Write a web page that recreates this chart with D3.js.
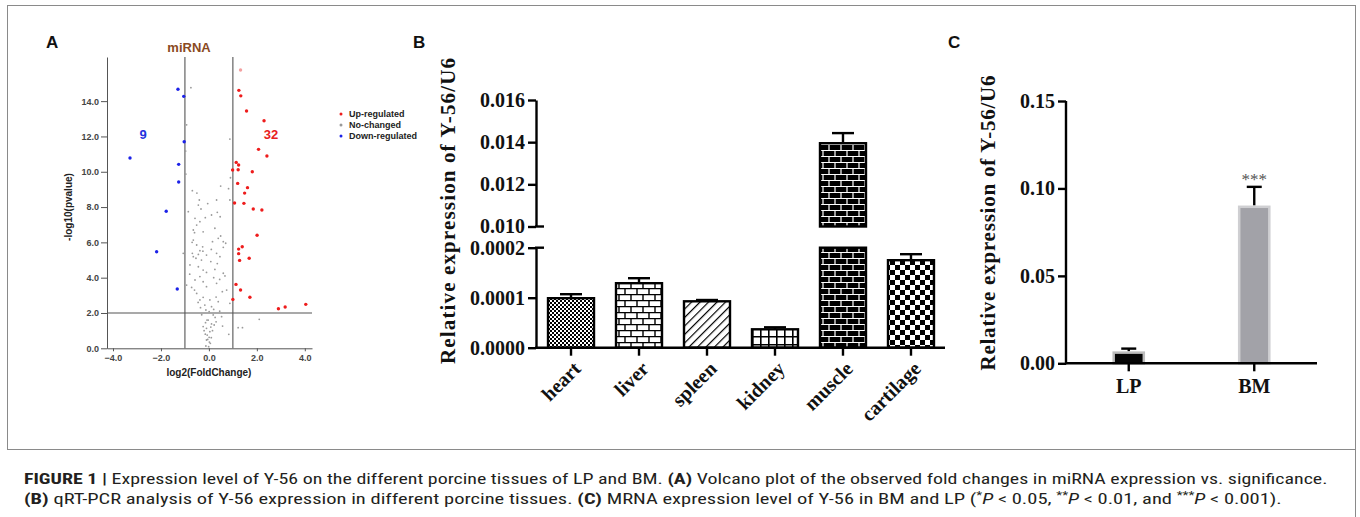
<!DOCTYPE html>
<html>
<head>
<meta charset="utf-8">
<script src="https://cdn.jsdelivr.net/npm/d3@7"></script>
<style>
  body { margin: 0; background: #fff; }
  svg { display: block; }
</style>
</head>
<body>
<script>
// ---- panel A : volcano plot (log2 fold change, -log10 p) ----
const upPoints = [
  [1.32,15.76],[1.25,14.61],[1.33,14.30],[1.57,13.44],[2.30,12.89],[2.07,11.27],[2.42,10.89],
  [1.14,10.53],[1.24,10.38],[0.99,10.10],[1.22,10.11],[1.81,10.0],[1.20,9.34],[1.61,9.10],
  [1.49,8.79],[1.07,8.23],[1.46,8.21],[1.85,7.89],[2.21,7.83],[2.01,6.40],[1.39,5.75],
  [1.24,5.62],[1.24,5.36],[1.68,5.10],[1.28,4.98],[1.13,3.62],[1.32,3.30],[1.71,2.89],
  [1.00,2.77],[2.90,2.24],[3.18,2.34],[4.04,2.49]
];
const downPoints = [
  [-1.29,14.67],[-1.05,14.27],[-1.03,11.70],[-3.29,10.78],[-1.26,10.42],[-1.26,9.42],
  [-1.78,7.76],[-2.18,5.47],[-1.32,3.36]
];
const grayPoints = [
  [-0.75,14.76],[-0.93,12.66],[-0.97,11.17],[-0.96,9.87],[0.875,11.85],[-0.69,8.93],[-0.5,8.79],
  [-0.4,8.4],[0.49,9.19],[0.82,9.04],[0.9,9.66],[0.32,8.4],[0.875,8.4],
  [-0.44,8.11],[-0.33,7.89],[-0.86,7.74],[0.11,7.55],[-0.58,7.36],[-0.375,7.17],[0.47,7.45],
  [-0.51,6.98],[-0.65,6.70],[-0.60,6.55],[-0.24,6.60],[0.49,6.36],[0.39,6.23],[0.15,6.04],
  [-0.65,6.13],[-0.51,5.85],[-0.26,5.75],[0.60,6.04],[0.70,5.95],[0.60,5.72],[-1.07,5.38],
  [-0.69,5.38],[-0.375,5.53],[-0.44,5.32],[-0.65,5.19],[-0.10,5.28],[0.32,5.38],[0.46,5.19],
  [-0.54,5.10],[-0.31,5.00],[0.08,4.91],[-0.79,4.72],[-0.44,4.62],[-0.24,4.43],[0.25,4.47],
  [0.60,4.25],[0.67,4.10],[-0.375,4.06],[-0.58,3.87],[-0.24,3.77],[-0.93,3.58],[-0.72,3.45],
  [-0.10,3.49],[0.32,3.68],[0.74,3.30],[0.56,3.21],[-0.51,3.11],[-0.24,2.89],[-0.375,2.74],
  [0.04,2.74],[0.39,2.64],[0.875,2.55],[-0.17,2.45],[0.11,2.36],[-0.125,2.17],[0.01,2.08],
  [0.18,1.89],[0.26,1.75],[0.53,1.79],[-0.03,1.60],[-0.14,1.45],[0.11,1.38],[-0.24,1.23],
  [-0.10,1.13],[0.22,1.32],[0.57,1.26],[0.04,0.94],[-0.07,0.75],[0.01,0.62],[-0.10,0.47],
  [0.06,0.28],[-0.125,0.13],[-0.01,0.09],[0.83,0.79],[2.10,1.64],[1.22,1.17],[1.40,1.17],
  [0.02,0.35],[-0.05,0.5],[0.1,0.6],[-0.15,0.8],[0.15,1.0],[-0.2,1.0],[0.08,1.2],[-0.08,1.6],
  [0.3,1.5],[-0.3,1.9],[0.2,2.2],[-0.35,2.3],[0.45,2.1],[-0.45,2.6],[0.3,2.9],[-0.6,3.3],
  [0.45,3.9],[-0.8,4.2],[0.2,4.0],[-0.1,4.3],[0.35,4.8],[-0.25,5.5],[0.1,5.6],[-0.7,6.0],
  [0.25,6.8],[-0.15,7.4],[0.35,7.7],[-0.05,8.2]
];
const volcanoXTicks = [-4, -2, 0, 2, 4];
const volcanoYTicks = [0, 2, 4, 6, 8, 10, 12, 14];
const legendLabels = ["Up-regulated", "No-changed", "Down-regulated"];

// ---- panel B : tissues ----
const tissues = ["heart", "liver", "spleen", "kidney", "muscle", "cartilage"];
const tissueMean = [0.000099, 0.000129, 0.0000928, 0.0000368, 0.01395, 0.000175];
const tissueErr = [0.000008, 0.00001, 0.0000026, 0.000004, 0.00048, 0.000012];
const lowTicks = [0, 0.0001, 0.0002];
const highTicks = [0.010, 0.012, 0.014, 0.016];

// ---- panel C : LP vs BM ----
const groups = ["LP", "BM"];
const groupMean = [0.0061, 0.0895];
const groupErr = [0.0023, 0.0114];
const groupTicks = [0, 0.05, 0.10, 0.15];

const sans = "Arial, 'Liberation Sans', Helvetica, sans-serif";
const serif = "'Liberation Serif', 'Times New Roman', serif";
const yTitle = "Relative expression of Y-56/U6";

const svg = d3.select("body").append("svg")
  .attr("width", 1360)
  .attr("height", 517);

// frame
svg.append("rect")
  .attr("x", 7.5).attr("y", 5.5).attr("width", 1348).attr("height", 444)
  .attr("fill", "none").attr("stroke", "#8a8a8a").attr("stroke-width", 1);
svg.append("line").attr("x1", 1355.5).attr("x2", 1355.5).attr("y1", 449).attr("y2", 517)
  .attr("stroke", "#8a8a8a").attr("stroke-width", 1);

// panel letters
[["A", 46], ["B", 413], ["C", 948]].forEach(([t, x]) => {
  svg.append("text").attr("x", x).attr("y", 48).text(t)
    .attr("font-family", sans).attr("font-weight", "bold").attr("font-size", 17).attr("fill", "#111");
});

// ================= A =================
const xA = d3.scaleLinear().domain([-4.25, 4.3]).range([107, 312]);
const yA = d3.scaleLinear().domain([0, 16.5]).range([348.3, 57]);
const gA = svg.append("g");

gA.append("text").attr("x", 189).attr("y", 52).attr("text-anchor", "middle")
  .text("miRNA").attr("font-family", sans).attr("font-weight", "bold")
  .attr("font-size", 13).attr("fill", "#8a4a22");

const axA = gA.append("g").attr("transform", `translate(${xA.range()[0]},0)`)
  .call(d3.axisLeft(yA).tickValues(volcanoYTicks).tickFormat(d3.format(".1f")).tickSize(6).tickSizeOuter(0).tickPadding(2));
const axAx = gA.append("g").attr("transform", `translate(0,${yA(0)})`)
  .call(d3.axisBottom(xA).tickValues(volcanoXTicks).tickFormat(d3.format(".1f")).tickSize(3).tickSizeOuter(0).tickPadding(3));
[axA, axAx].forEach(a => {
  a.selectAll("path, line").attr("stroke", "#555");
  a.selectAll("text").attr("font-family", sans).attr("font-size", 9)
    .attr("font-weight", "bold").attr("fill", "#444");
});

// threshold lines
[-1, 1].forEach(v => {
  gA.append("line").attr("x1", xA(v)).attr("x2", xA(v))
    .attr("y1", yA(16.5)).attr("y2", yA(0)).attr("stroke", "#555").attr("stroke-width", 1.1);
});
gA.append("line").attr("x1", xA(-4.25)).attr("x2", xA(4.3))
  .attr("y1", yA(2)).attr("y2", yA(2)).attr("stroke", "#555").attr("stroke-width", 1.1);

gA.append("g").selectAll("circle").data(grayPoints).enter().append("circle")
  .attr("cx", d => xA(d[0])).attr("cy", d => yA(d[1])).attr("r", 0.9).attr("fill", "#9a9a9a");
gA.append("g").selectAll("circle").data(upPoints).enter().append("circle")
  .attr("cx", d => xA(d[0])).attr("cy", d => yA(d[1])).attr("r", 1.7)
  .attr("fill", (d, i) => i === 0 ? "#f3a0a0" : "#ee1c1c");
gA.append("g").selectAll("circle").data(downPoints).enter().append("circle")
  .attr("cx", d => xA(d[0])).attr("cy", d => yA(d[1])).attr("r", 1.7).attr("fill", "#1c22e8");

gA.append("text").attr("x", 143).attr("y", 139).attr("text-anchor", "middle").text(downPoints.length)
  .attr("font-family", sans).attr("font-weight", "bold").attr("font-size", 13).attr("fill", "#2233dd");
gA.append("text").attr("x", 271).attr("y", 139).attr("text-anchor", "middle").text(upPoints.length)
  .attr("font-family", sans).attr("font-weight", "bold").attr("font-size", 13).attr("fill", "#e82020");

gA.append("text").attr("transform", "translate(72,207) rotate(-90)").attr("text-anchor", "middle")
  .text("-log10(pvalue)").attr("font-family", sans).attr("font-weight", "bold").attr("font-size", 10).attr("fill", "#222");
gA.append("text").attr("x", xA(0)).attr("y", 376).attr("text-anchor", "middle")
  .text("log2(FoldChange)").attr("font-family", sans).attr("font-weight", "bold").attr("font-size", 10).attr("fill", "#222");

const legColors = ["#ee1c1c", "#999", "#1c22e8"];
const leg = gA.append("g").selectAll("g").data(legendLabels).enter().append("g")
  .attr("transform", (d, i) => `translate(341,${114 + i * 11})`);
leg.append("circle").attr("r", 1.5).attr("fill", (d, i) => legColors[i]);
leg.append("text").attr("x", 8).attr("y", 3.2).text(d => d)
  .attr("font-family", sans).attr("font-weight", "bold").attr("font-size", 9).attr("fill", "#222");

// ================= B =================
const defs = svg.append("defs");
function pattern(id, w, h, bg) {
  const p = defs.append("pattern").attr("id", id).attr("patternUnits", "userSpaceOnUse")
    .attr("width", w).attr("height", h);
  p.append("rect").attr("width", w).attr("height", h).attr("fill", bg);
  return p;
}
let p = pattern("checkFine", 4, 4, "#fff");
p.append("rect").attr("width", 2).attr("height", 2).attr("fill", "#000");
p.append("rect").attr("x", 2).attr("y", 2).attr("width", 2).attr("height", 2).attr("fill", "#000");

p = pattern("brickWhite", 12, 12, "#fff");
p.append("path").attr("d", "M0,0.6H12M0,6.6H12M1,0.6V6.6M7,6.6V12.6").attr("stroke", "#000").attr("stroke-width", 1.4);

p = pattern("diag", 6, 6, "#fff").attr("patternTransform", "rotate(45)");
p.append("line").attr("x1", 0).attr("x2", 0).attr("y1", 0).attr("y2", 6).attr("stroke", "#000").attr("stroke-width", 2.4);

p = pattern("grid", 8, 8, "#fff");
p.append("path").attr("d", "M0,0.8H8M0.8,0V8").attr("stroke", "#000").attr("stroke-width", 1.6);

p = pattern("brickBlack", 12, 12, "#000");
p.append("path").attr("d", "M0,0.5H12M0,6.5H12M1,0.5V6.5M7,6.5V12.5").attr("stroke", "#fff").attr("stroke-width", 1.2);

p = pattern("checkBig", 10, 10, "#fff");
p.append("rect").attr("width", 5).attr("height", 5).attr("fill", "#000");
p.append("rect").attr("x", 5).attr("y", 5).attr("width", 5).attr("height", 5).attr("fill", "#000");

const tissueFill = ["checkFine", "brickWhite", "diag", "grid", "brickBlack", "checkBig"];

const xB = d3.scaleBand().domain(tissues).range([537, 945]).paddingInner(0.3235).paddingOuter(0.162);
const yLow = d3.scaleLinear().domain([0, 0.0002]).range([347.7, 247.7]);
const yHigh = d3.scaleLinear().domain([0.010, 0.016]).range([226.5, 100]);
const gB = svg.append("g");

const bData = tissues.map((t, i) => ({ t, m: tissueMean[i], e: tissueErr[i], f: tissueFill[i] }));

// lower part of every bar
gB.append("g").selectAll("rect").data(bData).enter().append("rect")
  .attr("x", d => xB(d.t)).attr("width", xB.bandwidth())
  .attr("y", d => yLow(Math.min(d.m, 0.0002)))
  .attr("height", d => yLow(0) - yLow(Math.min(d.m, 0.0002)))
  .attr("fill", d => `url(#${d.f})`).attr("stroke", "#000").attr("stroke-width", 2.4);
// upper part where the bar crosses the break
gB.append("g").selectAll("rect").data(bData.filter(d => d.m > 0.010)).enter().append("rect")
  .attr("x", d => xB(d.t)).attr("width", xB.bandwidth())
  .attr("y", d => yHigh(d.m)).attr("height", d => yHigh(0.010) - yHigh(d.m))
  .attr("fill", d => `url(#${d.f})`).attr("stroke", "#000").attr("stroke-width", 2.4);

const yB = v => v > 0.010 ? yHigh(v) : yLow(v);
const errB = gB.append("g").selectAll("g").data(bData).enter().append("g");
errB.append("line").attr("x1", d => xB(d.t) + xB.bandwidth() / 2).attr("x2", d => xB(d.t) + xB.bandwidth() / 2)
  .attr("y1", d => yB(d.m)).attr("y2", d => yB(d.m + d.e)).attr("stroke", "#000").attr("stroke-width", 2.4);
errB.append("line").attr("x1", d => xB(d.t) + xB.bandwidth() / 2 - 11).attr("x2", d => xB(d.t) + xB.bandwidth() / 2 + 11)
  .attr("y1", d => yB(d.m + d.e)).attr("y2", d => yB(d.m + d.e)).attr("stroke", "#000").attr("stroke-width", 2.4);

const axLow = gB.append("g").attr("transform", "translate(536,0)")
  .call(d3.axisLeft(yLow).tickValues(lowTicks).tickFormat(d3.format(".4f")).tickSize(8).tickSizeOuter(0).tickPadding(3));
const axHigh = gB.append("g").attr("transform", "translate(536,0)")
  .call(d3.axisLeft(yHigh).tickValues(highTicks).tickFormat(d3.format(".3f")).tickSize(8).tickSizeOuter(0).tickPadding(3));
const axBx = gB.append("g").attr("transform", `translate(0,${yLow(0)})`)
  .call(d3.axisBottom(xB).tickSize(8).tickSizeOuter(0).tickFormat(""));
axBx.select(".domain").attr("d", `M535,0H945`);
[axLow, axHigh, axBx].forEach(a => {
  a.selectAll("path, line").attr("stroke", "#000").attr("stroke-width", 2.4);
  a.selectAll("text").attr("font-family", serif).attr("font-size", 20)
    .attr("font-weight", "bold").attr("fill", "#111");
});
// break stubs
[yHigh(0.010), yLow(0.0002)].forEach(y => {
  gB.append("line").attr("x1", 535).attr("x2", 544).attr("y1", y).attr("y2", y)
    .attr("stroke", "#000").attr("stroke-width", 2.4);
});

gB.append("g").selectAll("text").data(tissues).enter().append("text")
  .attr("transform", d => `translate(${xB(d) + xB.bandwidth() / 2 + 11},370) rotate(-45)`)
  .attr("text-anchor", "end").text(d => d)
  .attr("font-family", serif).attr("font-size", 20).attr("font-weight", "bold").attr("fill", "#111");

gB.append("text").attr("transform", "translate(455,211) rotate(-90)").attr("text-anchor", "middle")
  .text(yTitle).attr("font-family", serif).attr("font-size", 21).attr("font-weight", "bold").attr("fill", "#111")
  .attr("textLength", 306).attr("lengthAdjust", "spacing");

// ================= C =================
const xC = d3.scaleBand().domain(groups).range([1066, 1317]).paddingInner(0.76).paddingOuter(0.38);
const yC = d3.scaleLinear().domain([0, 0.15]).range([363.3, 101]);
const gC = svg.append("g");
const cData = groups.map((g, i) => ({ g, m: groupMean[i], e: groupErr[i] }));
const cFill = ["#050505", "#a2a2a8"];
const cEdge = ["#bdbdbd", "#cfcfd2"];

gC.append("g").selectAll("rect").data(cData).enter().append("rect")
  .attr("x", d => xC(d.g)).attr("width", xC.bandwidth())
  .attr("y", d => yC(d.m)).attr("height", d => yC(0) - yC(d.m))
  .attr("fill", (d, i) => cFill[i]).attr("stroke", (d, i) => cEdge[i]).attr("stroke-width", 2.5);

const errC = gC.append("g").selectAll("g").data(cData).enter().append("g");
errC.append("line").attr("x1", d => xC(d.g) + xC.bandwidth() / 2).attr("x2", d => xC(d.g) + xC.bandwidth() / 2)
  .attr("y1", d => yC(d.m) - 1.5).attr("y2", d => yC(d.m + d.e)).attr("stroke", "#000").attr("stroke-width", 2.4);
errC.append("line").attr("x1", d => xC(d.g) + xC.bandwidth() / 2 - 7.5).attr("x2", d => xC(d.g) + xC.bandwidth() / 2 + 7.5)
  .attr("y1", d => yC(d.m + d.e)).attr("y2", d => yC(d.m + d.e)).attr("stroke", "#000").attr("stroke-width", 2.4);

gC.append("text").attr("x", xC("BM") + xC.bandwidth() / 2).attr("y", yC(groupMean[1] + groupErr[1]) - 2)
  .attr("text-anchor", "middle").text("***")
  .attr("font-family", serif).attr("font-size", 17).attr("fill", "#555");

const axC = gC.append("g").attr("transform", "translate(1066,0)")
  .call(d3.axisLeft(yC).tickValues(groupTicks).tickFormat(d3.format(".2f")).tickSize(8).tickSizeOuter(0).tickPadding(3));
const axCx = gC.append("g").attr("transform", `translate(0,${yC(0)})`)
  .call(d3.axisBottom(xC).tickSize(8).tickSizeOuter(0).tickPadding(8));
axCx.select(".domain").attr("d", "M1065,0H1317");
[axC, axCx].forEach(a => {
  a.selectAll("path, line").attr("stroke", "#000").attr("stroke-width", 2.4);
  a.selectAll("text").attr("font-family", serif).attr("font-size", 20)
    .attr("font-weight", "bold").attr("fill", "#111");
});
axC.select(".domain").attr("d", `M0,${yC(0.15)}V${yC(0) + 1}`);

gC.append("text").attr("transform", "translate(995,223) rotate(-90)").attr("text-anchor", "middle")
  .text(yTitle).attr("font-family", serif).attr("font-size", 21).attr("font-weight", "bold").attr("fill", "#111")
  .attr("textLength", 295).attr("lengthAdjust", "spacing");

// ================= caption =================
const capFont = "'Liberation Sans Narrow', 'Roboto Condensed', Arial, sans-serif";
function caption(parts, y, width) {
  const t = svg.append("text").attr("font-family", capFont).attr("font-size", 15).attr("fill", "#231f20");
  parts.forEach(([s, style]) => {
    const ts = t.append("tspan").text(s);
    if (style && style.includes("b")) ts.attr("font-weight", "bold");
    if (style && style.includes("i")) ts.attr("font-style", "italic");
    if (style && style.includes("s")) ts.attr("font-size", 10).attr("dy", -5);
    if (style && style.includes("r")) ts.attr("dy", 5);
  });
  const len = t.node().getComputedTextLength();
  t.attr("transform", `translate(24,${y}) scale(${width / len},1)`);
}
caption([
  ["FIGURE 1 | ", "b"],
  ["Expression level of Y-56 on the different porcine tissues of LP and BM. "],
  ["(A)", "b"],
  [" Volcano plot of the observed fold changes in miRNA expression vs. significance."]
], 484, 1304);
caption([
  ["(B)", "b"],
  [" qRT-PCR analysis of Y-56 expression in different porcine tissues. "],
  ["(C)", "b"],
  [" MRNA expression level of Y-56 in BM and LP ("],
  ["*", "s"], ["P", "ri"], [" < 0.05, "],
  ["**", "s"], ["P", "ri"], [" < 0.01, and "],
  ["***", "s"], ["P", "ri"], [" < 0.001).", ""]
], 504, 1259);
</script>
</body>
</html>
